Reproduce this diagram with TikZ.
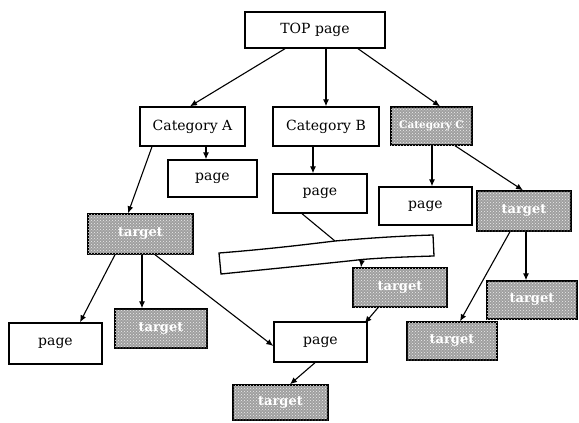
\documentclass[tikz,border=0pt]{standalone}
\usepackage{fontspec}
\setmainfont{DejaVu Serif}
\usetikzlibrary{arrows.meta,calc,patterns}
\begin{document}
\begin{tikzpicture}[x=1pt,y=-1pt,
  box/.style={draw=black, line width=1.4pt, inner sep=0pt, fill=white,
    font=\fontsize{14}{16}\selectfont},
  shaded/.style={draw=black, line width=1.4pt, inner sep=0pt, fill=gray!75,
    postaction={pattern=crosshatch dots, pattern color=white!85!gray},
    text=white, font=\fontsize{13}{15}\selectfont\bfseries},
  conn/.style={line width=1.1pt, -{Latex[length=7pt,width=6pt]}},
  plain/.style={line width=1.1pt}]
\useasboundingbox (0,0) rectangle (579,423);
% nodes
\node[box, minimum width=140pt, minimum height=36pt] (top) at (315,30) {TOP page};
\node[box, minimum width=105pt, minimum height=39pt] (catA) at (192.5,126.5) {Category A};
\node[box, minimum width=106pt, minimum height=39pt] (catB) at (326,126.5) {Category B};
\node[shaded, minimum width=81pt, minimum height=38pt, font=\fontsize{10.5}{12}\selectfont\bfseries] (catC) at (431.5,126) {Category C};
\node[box, minimum width=89pt, minimum height=37pt] (pageA) at (212.5,178.5) {page};
\node[box, minimum width=94pt, minimum height=39pt] (pageB) at (320,193.5) {page};
\node[box, minimum width=93pt, minimum height=38pt] (pageC) at (425.5,206) {page};
\node[shaded, minimum width=94pt, minimum height=40pt] (tgtR) at (524,211) {target};
\node[shaded, minimum width=90pt, minimum height=38pt] (tgtR2) at (532,300) {target};
\node[shaded, minimum width=90pt, minimum height=38pt] (tgtR3) at (452,341) {target};
\node[shaded, minimum width=94pt, minimum height=39pt] (tgtM) at (400,287.5) {target};
\node[shaded, minimum width=105pt, minimum height=40pt] (tgtL) at (140.5,234) {target};
\node[box, minimum width=93pt, minimum height=41pt] (pageBL) at (55.5,343.5) {page};
\node[shaded, minimum width=92pt, minimum height=39pt] (tgtBL) at (161,328.5) {target};
\node[box, minimum width=93pt, minimum height=40pt] (pageBC) at (320.5,342) {page};
\node[shaded, minimum width=95pt, minimum height=35pt] (tgtB) at (280.5,402.5) {target};
% banner
\coordinate (bt) at (335,241);
\coordinate (bb) at (362,259.5);
\draw[line width=1.3pt, fill=white] (219,253) .. controls (270,249) and (310,244) .. (bt)
  .. controls (370,238) and (400,236) .. (433,235) -- (434,256)
  .. controls (400,257) and (380,258) .. (bb)
  .. controls (340,262) and (300,266) .. (221,274) -- cycle;
% connectors
\draw[conn] ($(top.south)+(-30,0)$) -- ($(catA.north)+(-2.5,0)$);
\draw[conn] ($(top.south)+(11,0)$) -- (catB.north);
\draw[conn] ($(top.south)+(43,0)$) -- ($(catC.north)+(8.5,0)$);
\draw[conn] ($(catA.south)+(13.5,0)$) -- ($(pageA.north)+(-6.5,0)$);
\draw[conn] ($(catA.south)+(-40.5,0)$) -- ($(tgtL.north)+(-12.5,0)$);
\draw[conn] ($(catB.south)+(-13,0)$) -- ($(pageB.north)+(-7,0)$);
\draw[conn] ($(catC.south)+(0.5,0)$) -- ($(pageC.north)+(6.5,0)$);
\draw[conn] ($(catC.south)+(23.5,0)$) -- ($(tgtR.north)+(-1,0)$);
\draw[conn] ($(tgtR.south)+(2,0)$) -- ($(tgtR2.north)+(-6,0)$);
\draw[conn] ($(tgtR.south)+(-14,0)$) -- ($(tgtR3.north)+(8,0)$);
\draw[plain] ($(pageB.south)+(-18,0)$) -- (bt);
\draw[conn] (bb) -- ($(tgtM.north)+(-39,0)$);
\draw[conn] ($(tgtM.south)+(-22,0)$) -- ($(pageBC.north east)+(-3,2)$);
\draw[conn] ($(tgtL.south)+(-25.5,0)$) -- ($(pageBL.north)+(24.5,0)$);
\draw[conn] ($(tgtL.south)+(1.5,0)$) -- ($(tgtBL.north)+(-19,0)$);
\draw[conn] ($(tgtL.south)+(14.5,0)$) -- ($(pageBC.west)+(0,4)$);
\draw[conn] ($(pageBC.south)+(-5.5,0)$) -- ($(tgtB.north)+(9.5,0)$);
\end{tikzpicture}
\end{document}
